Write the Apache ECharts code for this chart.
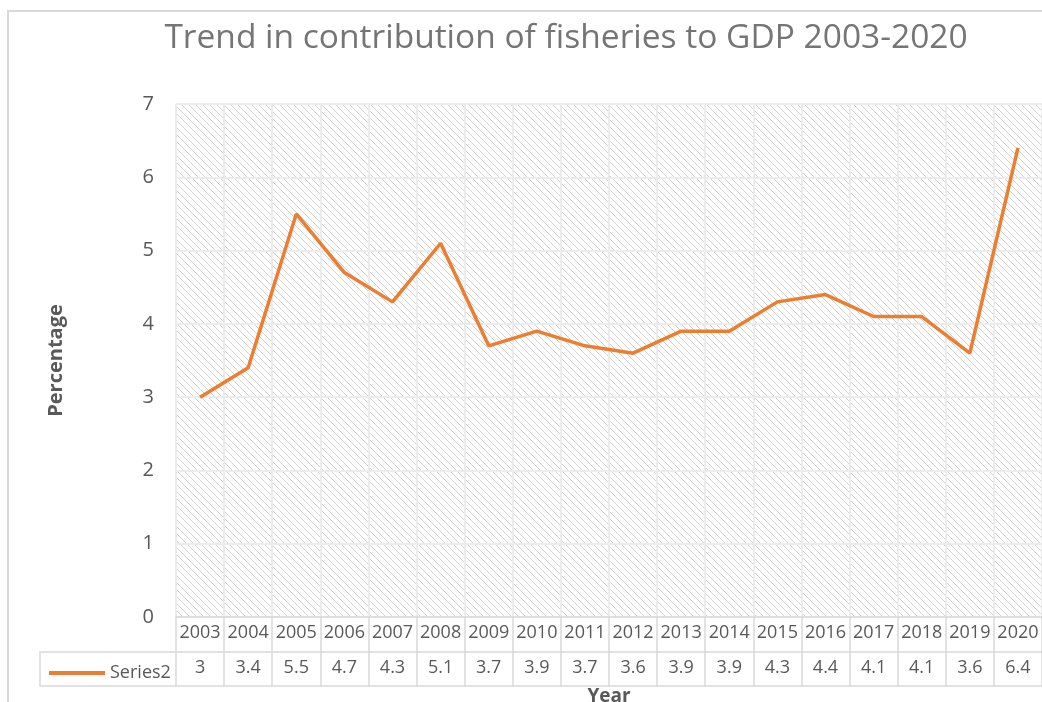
<!DOCTYPE html>
<html>
<head>
<meta charset="utf-8">
<script src="https://cdn.jsdelivr.net/npm/echarts@6/dist/echarts.min.js"></script>
<style>html,body{margin:0;padding:0;background:#fff}#c{width:1042px;height:702px}</style>
</head>
<body>
<div id="c"></div>
<script>
const years = ['2003','2004','2005','2006','2007','2008','2009','2010','2011','2012','2013','2014','2015','2016','2017','2018','2019','2020'];
const series2 = [3, 3.4, 5.5, 4.7, 4.3, 5.1, 3.7, 3.9, 3.7, 3.6, 3.9, 3.9, 4.3, 4.4, 4.1, 4.1, 3.6, 6.4];
const yTicks = [0, 1, 2, 3, 4, 5, 6, 7];

function hatch() {
  const s = 7;
  const c = document.createElement('canvas');
  c.width = s; c.height = s;
  const g = c.getContext('2d');
  g.fillStyle = '#ffffff';
  g.fillRect(0, 0, s, s);
  g.strokeStyle = '#d2d2d2';
  g.lineWidth = 1;
  g.beginPath();
  g.moveTo(-1, -1); g.lineTo(s + 1, s + 1);
  g.moveTo(-1, s - 1); g.lineTo(1, s + 1);
  g.moveTo(s - 1, -1); g.lineTo(s + 1, 1);
  g.stroke();
  return c;
}

const font = '"Open Sans", "Noto Sans", sans-serif';
const chart = echarts.init(document.getElementById('c'));
chart.setOption({
  animation: false,
  textStyle: { fontFamily: font },
  title: {
    text: 'Trend in contribution of fisheries to GDP 2003-2020',
    left: 561, top: 16, textAlign: 'center',
    textStyle: { fontFamily: font, fontSize: 33.5, fontWeight: 'normal', color: '#757575' }
  },
  legend: {
    left: 44, top: 659,
    icon: 'rect', itemWidth: 56, itemHeight: 4,
    textStyle: { fontFamily: font, fontSize: 18, color: '#595959' },
    data: ['Series2']
  },
  graphic: [
    { type: 'rect', shape: { x: 8, y: 11, width: 1040, height: 700 }, style: { fill: 'none', stroke: '#d9d9d9', lineWidth: 2 }, z: 0, silent: true },
    { type: 'rect', shape: { x: 40, y: 652, width: 1010, height: 34 }, style: { fill: 'none', stroke: '#d9d9d9', lineWidth: 1.5 }, z: 1, silent: true }
  ],
  grid: {
    left: 176, right: 0, top: 104, bottom: 85,
    outerBoundsMode: 'none',
    containLabel: false,
    show: true,
    backgroundColor: { image: hatch(), repeat: 'repeat' },
    borderColor: '#e3e3e3', borderWidth: 1
  },
  xAxis: [
    {
      type: 'category', data: years, boundaryGap: true,
      name: 'Year', nameLocation: 'middle', nameGap: 70,
      nameTextStyle: { fontFamily: font, fontSize: 19, fontWeight: 'bold', color: '#595959' },
      axisLine: { show: true, lineStyle: { color: '#d9d9d9', width: 1.5 } },
      axisTick: { show: true, interval: 0, length: 69, lineStyle: { color: '#d9d9d9', width: 1.5 } },
      axisLabel: { interval: 0, fontSize: 18, color: '#595959', margin: 7 },
      splitLine: { show: true, interval: 0, lineStyle: { color: '#ececec', width: 2 } }
    },
    {
      type: 'category', data: years, boundaryGap: true, position: 'bottom', offset: 35,
      axisLine: { show: false },
      axisTick: { show: false },
      axisLabel: { interval: 0, fontSize: 18, color: '#595959', margin: 7, formatter: (v, i) => String(series2[i]) },
      splitLine: { show: false }
    }
  ],
  yAxis: {
    type: 'value', min: yTicks[0], max: yTicks[yTicks.length - 1], interval: 1,
    name: 'Percentage', nameLocation: 'middle', nameGap: 110,
    nameTextStyle: { fontFamily: font, fontSize: 20, fontWeight: 'bold', color: '#595959' },
    axisLine: { show: false }, axisTick: { show: false },
    axisLabel: { fontSize: 20, color: '#595959', margin: 22 },
    splitLine: { show: true, lineStyle: { color: '#ececec', width: 2 } }
  },
  series: [{
    name: 'Series2', type: 'line', data: series2,
    showSymbol: false, symbol: 'none',
    lineStyle: { color: '#ED7D31', width: 3.5 },
    itemStyle: { color: '#ED7D31' }
  }]
});
</script>
</body>
</html>
